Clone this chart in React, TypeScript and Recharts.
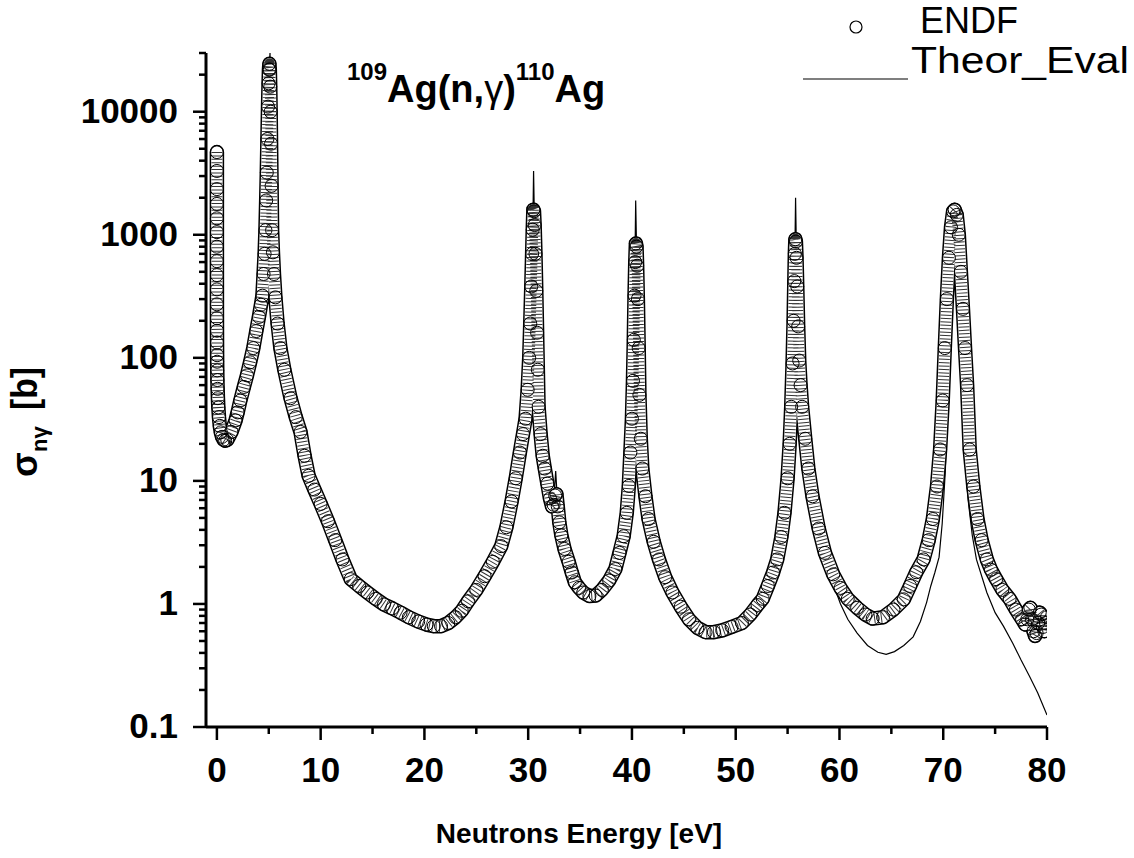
import React from "react";
import { LineChart, Line, XAxis, YAxis } from "recharts";

const FONT = '"Liberation Sans", Arial, Helvetica, sans-serif';

// ENDF evaluated capture cross section [eV, barn]
const endfPoints: [number, number][] = [
  [0.00001, 4700], [0.00002, 3300], [0.00004, 2350], [0.00007, 1780], [0.00012, 1360],
  [0.0002, 1050], [0.00035, 800], [0.0006, 610], [0.001, 470], [0.0017, 360],
  [0.003, 272], [0.005, 210], [0.008, 166], [0.0125, 133], [0.02, 105],
  [0.0253, 93], [0.035, 79], [0.05, 66], [0.07, 56], [0.1, 47],
  [0.14, 39.5], [0.2, 33], [0.28, 28], [0.38, 24.8], [0.5, 22.8],
  [0.65, 21.6], [0.8, 21.2], [1.0, 21.5], [1.4, 25], [1.8, 31],
  [2.0, 36], [2.26, 45], [2.6, 58], [2.9, 72], [3.2, 92],
  [3.51, 120], [3.8, 165], [4.05, 215], [4.25, 270], [4.39, 320],
  [4.5, 480], [4.6, 700], [4.68, 1090], [4.75, 1900], [4.81, 3200],
  [4.87, 6000], [4.93, 11000], [4.98, 17000], [5.02, 22000], [5.06, 24500],
  [5.1, 22000], [5.14, 16000], [5.18, 10000], [5.22, 5500], [5.27, 2500],
  [5.32, 1090], [5.4, 720], [5.5, 480], [5.64, 310], [5.85, 190],
  [6.12, 120], [6.5, 80], [7.1, 47], [7.6, 33], [8.06, 25],
  [8.45, 16], [8.84, 11], [9.4, 8.5], [10.0, 6.5], [10.7, 4.7],
  [11.4, 3.3], [12.1, 2.3], [12.9, 1.59], [13.7, 1.4], [14.5, 1.24],
  [15.3, 1.1], [16.1, 0.99], [16.9, 0.92], [17.7, 0.85], [18.5, 0.78],
  [19.4, 0.72], [20.2, 0.68], [20.9, 0.66], [21.6, 0.66], [22.3, 0.7],
  [23.0, 0.78], [23.6, 0.88], [24.2, 1.05], [25.0, 1.3], [25.8, 1.68],
  [26.6, 2.2], [27.4, 2.95], [27.9, 4.2], [28.4, 6.8], [28.8, 10.5],
  [29.2, 17], [29.5, 24], [29.75, 32], [29.95, 55], [30.1, 100],
  [30.2, 190], [30.3, 380], [30.38, 700], [30.44, 1100], [30.5, 1600],
  [30.56, 1550], [30.62, 1200], [30.7, 700], [30.78, 350], [30.86, 160],
  [30.93, 80], [31.0, 40], [31.2, 24], [31.4, 16], [31.6, 12.6],
  [31.85, 9.5], [32.1, 7.2], [32.3, 6.2], [32.45, 6.4], [32.6, 7.6],
  [32.72, 7.8], [32.85, 6.2], [33.0, 4.6], [33.2, 3.6], [33.5, 2.8],
  [33.9, 2.2], [34.2, 1.8], [34.5, 1.5], [34.9, 1.35], [35.3, 1.24],
  [35.9, 1.16], [36.5, 1.17], [37.1, 1.3], [37.8, 1.55], [38.4, 1.92],
  [38.8, 2.6], [39.2, 3.55], [39.5, 5.5], [39.7, 9.1], [39.85, 17],
  [40.0, 32], [40.1, 65], [40.18, 140], [40.25, 320], [40.32, 600],
  [40.38, 850], [40.44, 800], [40.5, 560], [40.57, 300], [40.65, 120],
  [40.72, 50], [40.85, 22], [41.0, 12.6], [41.3, 7.5], [41.6, 4.9],
  [42.1, 3.2], [42.6, 2.3], [43.2, 1.65], [43.9, 1.24], [44.7, 0.95],
  [45.5, 0.75], [46.3, 0.64], [47.1, 0.59], [47.9, 0.59], [48.7, 0.61],
  [49.6, 0.65], [50.6, 0.7], [51.4, 0.82], [52.1, 0.98], [52.6, 1.1],
  [53.1, 1.4], [53.6, 1.8], [54.0, 2.3], [54.4, 3.5], [54.7, 5.5],
  [55.0, 10.5], [55.2, 20], [55.35, 40], [55.48, 90], [55.58, 200],
  [55.65, 420], [55.7, 700], [55.75, 920], [55.8, 880], [55.86, 650],
  [55.93, 380], [56.02, 180], [56.12, 95], [56.25, 60], [56.4, 40],
  [56.7, 22], [57.0, 12.6], [57.4, 7.5], [58.0, 4.1], [58.6, 2.6],
  [59.4, 1.74], [60.1, 1.35], [60.8, 1.1], [61.7, 0.93], [62.5, 0.82],
  [63.2, 0.76], [64.2, 0.78], [65.2, 0.9], [66.2, 1.09], [66.8, 1.4],
  [67.4, 1.81], [68.1, 2.3], [68.6, 3.3], [69.0, 4.9], [69.4, 9],
  [69.7, 18], [69.95, 45], [70.15, 120], [70.35, 300], [70.55, 650],
  [70.75, 1150], [70.95, 1550], [71.1, 1600], [71.3, 1450], [71.5, 1000],
  [71.7, 500], [71.9, 250], [72.1, 120], [72.3, 60], [72.55, 18],
  [72.9, 9], [73.3, 4.9], [73.7, 3.3], [74.2, 2.3], [74.6, 1.9],
  [75.1, 1.59], [75.7, 1.3], [76.4, 1.1], [77.0, 0.9], [77.6, 0.75],
  [77.9, 0.68], [78.1, 0.75], [78.25, 0.9], [78.4, 0.93], [78.55, 0.75],
  [78.7, 0.6], [78.85, 0.55], [79.0, 0.58], [79.15, 0.7], [79.3, 0.85],
  [79.45, 0.82], [79.6, 0.65], [79.75, 0.6], [79.9, 0.7], [80.0, 0.78],
];

// theoretical evaluation [eV, barn]
const theorPoints: [number, number][] = [
  [0.00001, 4700], [0.0001, 1480], [0.001, 470], [0.01, 148], [0.05, 66],
  [0.2, 33], [0.5, 22.8], [0.8, 21.2], [1.4, 25], [2.26, 45],
  [3.2, 92], [3.8, 165], [4.25, 270], [4.5, 480], [4.68, 1090],
  [4.81, 3200], [4.93, 11000], [5.02, 22000], [5.12, 30000], [5.2, 8000],
  [5.32, 1090], [5.5, 480], [5.85, 190], [6.5, 80], [7.1, 47],
  [8.06, 25], [8.84, 11], [10.0, 6.5], [11.4, 3.3], [12.9, 1.59],
  [14.5, 1.24], [16.1, 0.99], [17.7, 0.85], [19.4, 0.72], [20.9, 0.66],
  [22.3, 0.7], [24.2, 1.05], [25.8, 1.68], [27.4, 2.95], [28.4, 6.8],
  [29.2, 17], [29.75, 32], [30.1, 100], [30.3, 380], [30.45, 1200],
  [30.52, 3300], [30.6, 1300], [30.8, 280], [31.0, 40], [31.6, 12.6],
  [32.1, 7.2], [32.45, 6.4], [32.65, 12], [32.85, 6.2], [33.2, 3.6],
  [33.9, 2.2], [34.5, 1.5], [35.3, 1.24], [36.5, 1.17], [37.8, 1.55],
  [38.8, 2.6], [39.5, 5.5], [39.85, 17], [40.1, 65], [40.25, 320],
  [40.36, 1900], [40.47, 600], [40.65, 120], [40.85, 22], [41.3, 7.5],
  [42.1, 3.2], [43.2, 1.65], [44.7, 0.95], [46.3, 0.64], [47.9, 0.59],
  [49.6, 0.65], [51.4, 0.82], [52.6, 1.1], [53.6, 1.8], [54.4, 3.5],
  [55.0, 10.5], [55.35, 40], [55.58, 200], [55.7, 700], [55.77, 2000],
  [55.86, 650], [56.02, 180], [56.25, 60], [56.7, 22], [57.4, 7.5],
  [58.0, 4.0], [58.6, 2.4], [59.4, 1.45], [60.1, 1.0], [60.8, 0.75],
  [61.7, 0.58], [62.7, 0.46], [63.7, 0.405], [64.5, 0.39], [65.3, 0.41],
  [66.2, 0.46], [67.1, 0.54], [67.8, 0.72], [68.4, 1.03], [68.8, 1.4],
  [69.2, 1.81], [69.6, 2.4], [69.9, 4.5], [70.2, 12], [70.45, 50],
  [70.7, 250], [70.9, 800], [71.1, 1400], [71.3, 900], [71.5, 300],
  [71.75, 70], [72.0, 20], [72.4, 7], [72.8, 3.6], [73.2, 2.3],
  [74.2, 1.24], [75.0, 0.85], [75.8, 0.66], [76.7, 0.48], [77.5, 0.35],
  [78.3, 0.26], [79.1, 0.19], [80.0, 0.125],
];

const xMajor = [0, 10, 20, 30, 40, 50, 60, 70, 80];
const xMinor = [5, 15, 25, 35, 45, 55, 65, 75];
const yMajor = [0.1, 1, 10, 100, 1000, 10000];
const yMinorFactors = [2, 3, 4, 5, 6, 7, 8, 9];
const Y_MAX = 30000;

const yMinor = yMajor
  .flatMap((d) => yMinorFactors.map((k) => k * d))
  .filter((v) => v <= Y_MAX * 1.0001);

const endfData = endfPoints.map(([e, s]) => ({ e, s }));
const theorData = theorPoints.map(([e, s]) => ({ e, s }));

const xTicks = [...xMajor, ...xMinor].sort((a, b) => a - b);
const yTicks = [...yMajor, ...yMinor].sort((a, b) => a - b);

function XTick(props: any) {
  const { x, y, payload } = props;
  const major = xMajor.includes(payload.value);
  return (
    <g>
      <line x1={x} x2={x} y1={y} y2={y + (major ? 13 : 7)} stroke="#000" strokeWidth={2.5} />
      {major && (
        <text x={x} y={y + 55} textAnchor="middle" fontFamily={FONT} fontWeight="bold" fontSize={35} fill="#000">
          {payload.value}
        </text>
      )}
    </g>
  );
}

function YTick(props: any) {
  const { x, y, payload } = props;
  const major = yMajor.includes(payload.value);
  return (
    <g>
      <line x1={x} x2={x - (major ? 13 : 7)} y1={y} y2={y} stroke="#000" strokeWidth={2.5} />
      {major && (
        <text x={x - 28} y={y + 11} textAnchor="end" fontFamily={FONT} fontWeight="bold" fontSize={35} fill="#000">
          {String(payload.value)}
        </text>
      )}
    </g>
  );
}

// the ENDF symbols overlap into a tube; drawn as outline + hatched body + circles
const tubeCommon = {
  data: endfData,
  dataKey: "s",
  type: "linear" as const,
  dot: false,
  activeDot: false,
  isAnimationActive: false,
  strokeLinejoin: "round" as const,
};

export default function App() {
  return (
    <div style={{ position: "absolute", left: 0, top: 0, width: 1134, height: 858, background: "#fff" }}>
      <LineChart width={1134} height={858} margin={{ top: 53, right: 87, bottom: 0, left: 0 }}>
        <XAxis
          type="number"
          dataKey="e"
          domain={[-1.05, 80]}
          allowDataOverflow
          ticks={xTicks}
          interval={0}
          tick={XTick}
          tickLine={false}
          tickSize={0}
          tickMargin={0}
          height={131}
          axisLine={{ stroke: "#000", strokeWidth: 3 }}
        />
        <YAxis
          type="number"
          scale="log"
          domain={[0.1, Y_MAX]}
          allowDataOverflow
          ticks={yTicks}
          interval={0}
          tick={YTick}
          tickLine={false}
          tickSize={0}
          tickMargin={0}
          width={206}
          axisLine={{ stroke: "#000", strokeWidth: 3 }}
        />
        <Line
          data={theorData}
          dataKey="s"
          type="linear"
          stroke="#000"
          strokeWidth={1.2}
          dot={false}
          activeDot={false}
          isAnimationActive={false}
        />
        <Line {...tubeCommon} stroke="#000" strokeWidth={14.5} strokeLinecap="round" />
        <Line {...tubeCommon} stroke="#fff" strokeWidth={11.5} strokeLinecap="round" />
        <Line {...tubeCommon} stroke="#333" strokeWidth={11} strokeDasharray="1 2.4" strokeLinecap="butt" />
        <Line
          data={endfData}
          dataKey="s"
          type="linear"
          stroke="none"
          strokeWidth={0}
          dot={{ r: 6.5, fill: "none", stroke: "#000", strokeWidth: 1 }}
          activeDot={false}
          isAnimationActive={false}
        />
      </LineChart>
      <svg
        width={1134}
        height={858}
        style={{ position: "absolute", left: 0, top: 0, pointerEvents: "none" }}
      >
        <text x={347} y={102} fontFamily={FONT} fontWeight="bold" fontSize={38} fill="#000">
          <tspan fontSize={24} dy={-22}>109</tspan>
          <tspan dy={22}>Ag(n,</tspan>
          <tspan fontWeight="normal">γ</tspan>
          <tspan>)</tspan>
          <tspan fontSize={24} dy={-22}>110</tspan>
          <tspan dy={22}>Ag</tspan>
        </text>

        <circle cx={856} cy={27} r={6} fill="#fff" stroke="#000" strokeWidth={1.2} />
        <text x={920} y={33} fontFamily={FONT} fontSize={36} fill="#000">ENDF</text>
        <line x1={803} x2={908} y1={79} y2={79} stroke="#000" strokeWidth={1.2} />
        <text x={911} y={73} fontFamily={FONT} fontSize={36} fill="#000" textLength={218} lengthAdjust="spacingAndGlyphs">
          Theor_Eval
        </text>

        <text x={579} y={843} textAnchor="middle" fontFamily={FONT} fontWeight="bold" fontSize={28} fill="#000">
          Neutrons Energy [eV]
        </text>

        <text transform="rotate(-90)" x={-477} y={37} fontFamily={FONT} fontWeight="bold" fontSize={36} fill="#000">
          σ
          <tspan x={-452} y={47} fontSize={22}>nγ</tspan>
          <tspan x={-410} y={37} textLength={43} lengthAdjust="spacingAndGlyphs">[b]</tspan>
        </text>
      </svg>
    </div>
  );
}
